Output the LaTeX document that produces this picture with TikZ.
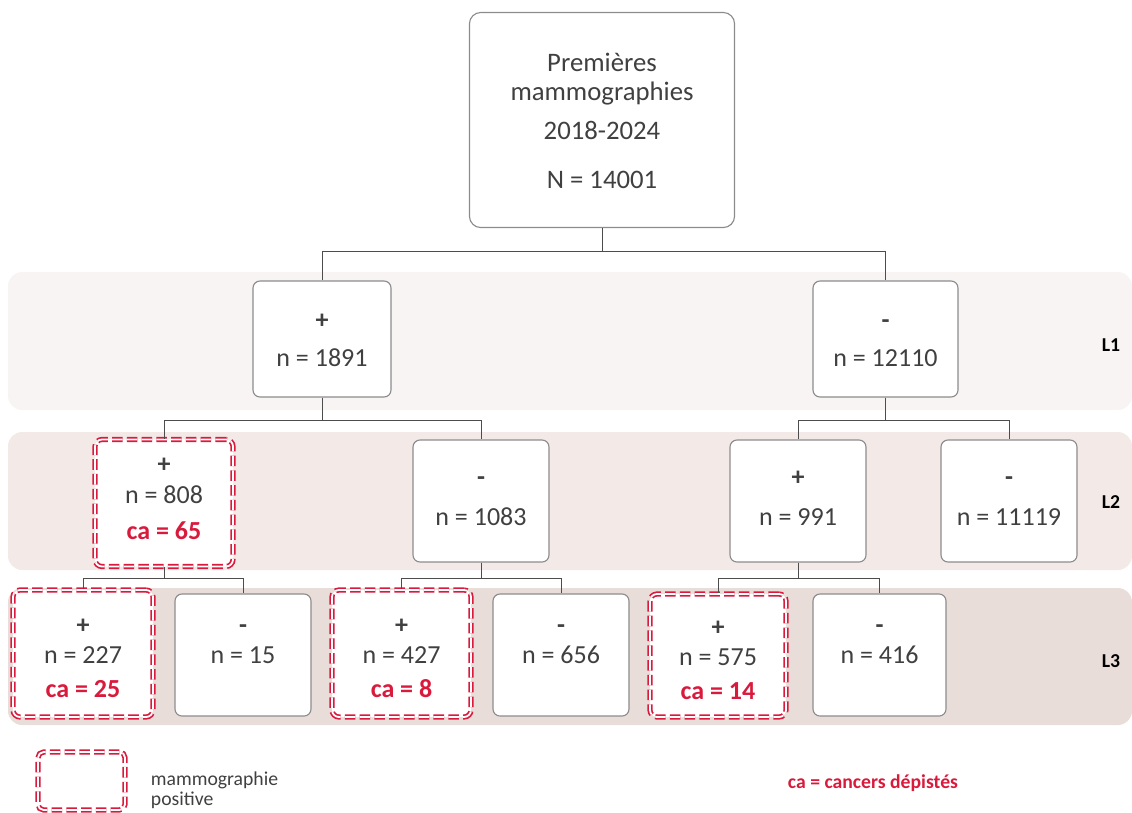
\documentclass[tikz,border=0pt]{standalone}
\usepackage{fontspec}
\setmainfont{Carlito}
\definecolor{txtgray}{HTML}{404040}
\definecolor{boxgray}{HTML}{8C8C8C}
\definecolor{caRed}{HTML}{D91A3C}
\definecolor{bandA}{HTML}{F8F4F3}
\definecolor{bandB}{HTML}{F3EAE8}
\definecolor{bandC}{HTML}{E8DDD9}
\begin{document}
\begin{tikzpicture}[x=0.025cm, y=-0.025cm,
        box/.style={draw=boxgray, fill=white, rounded corners=5pt, line width=0.8pt,
            minimum width=3.4cm, minimum height=3.05cm, align=center, text=txtgray,
            font=\fontsize{18.5}{21}\selectfont, text depth=0pt},
        posbox/.style={box, draw=caRed, double=white, double distance=1.3pt, line width=1.2pt,
            dash pattern=on 7.5pt off 3pt},
        link/.style={draw=black!70, line width=0.7pt},
        lvl/.style={font=\fontsize{14}{16}\selectfont\bfseries}]

        \useasboundingbox (0,0) rectangle (1132,812);

        % level bands
        \fill[bandA, rounded corners=10pt] (8,272) rectangle (1132,410);
        \fill[bandB, rounded corners=10pt] (8,432) rectangle (1132,570);
        \fill[bandC, rounded corners=10pt] (8,588) rectangle (1132,725);

        \node[lvl] (lvA) at (1111,345) {L1};
        \node[lvl] (lvB) at (1111,502) {L2};
        \node[lvl] (lvC) at (1111,661) {L3};

        \node[box, rounded corners=8pt, minimum width=6.625cm, minimum height=5.375cm,
            font=\fontsize{19}{21}\selectfont, text height=98pt] (root) at (602,120)
            {Premières\\[-0.4pt] mammographies\\[7.4pt] 2018-2024\\[13.8pt] N = 14001};

        \node[box, minimum width=3.45cm, minimum height=2.9cm, text height=38.4pt] (l1p) at (322,339)
            {\textbf{+}\\[5.6pt] n = 1891};
        \node[box, minimum width=3.625cm, minimum height=2.9cm, text height=38.4pt] (l1m) at (885.5,339)
            {\textbf{-}\\[5.6pt] n = 12110};

        \node[posbox, minimum width=3.45cm, minimum height=3.175cm, text height=51.2pt] (l2a) at (164,503)
            {\textbf{+}\\[1pt] n = 808\\[4pt] {\color{caRed}\bfseries ca = 65}};
        \node[box, text height=35.5pt] (l2b) at (481,501) {\textbf{-}\\[8pt] n = 1083};
        \node[box, text height=35.5pt] (l2c) at (798,501) {\textbf{+}\\[8pt] n = 991};
        \node[box, text height=35.5pt] (l2d) at (1009,501) {\textbf{-}\\[8pt] n = 11119};

        \node[posbox, minimum width=3.5cm, minimum height=3.175cm, text height=61.9pt] (l3a) at (83,653.5)
            {\textbf{+}\\ n = 227\\[3pt] {\color{caRed}\bfseries ca = 25}};
        \node[box, text height=11.4pt] (l3b) at (243,655) {\textbf{-}\\ n = 15};
        \node[posbox, minimum width=3.475cm, minimum height=3.175cm, text height=61.9pt] (l3c) at (401.5,653.5)
            {\textbf{+}\\ n = 427\\[3pt] {\color{caRed}\bfseries ca = 8}};
        \node[box, text height=11.4pt] (l3d) at (561,655) {\textbf{-}\\ n = 656};
        \node[posbox, minimum width=3.4cm, minimum height=3.075cm, text height=61.9pt] (l3e) at (718,655.5)
            {\textbf{+}\\ n = 575\\[3pt] {\color{caRed}\bfseries ca = 14}};
        \node[box, minimum width=3.325cm, text height=11.4pt] (l3f) at (879.5,655) {\textbf{-}\\ n = 416};

        \draw[link] (root.south) -- ++(0,23) -| (l1p.north);
        \draw[link] (root.south) -- ++(0,23) -| (l1m.north);
        \draw[link] (l1p.south) -- ++(0,23) -| (l2a.north);
        \draw[link] (l1p.south) -- ++(0,23) -| (l2b.north);
        \draw[link] (l1m.south) -- ++(0,23) -| (l2c.north);
        \draw[link] (l1m.south) -- ++(0,23) -| (l2d.north);
        \draw[link] (l2a.south) -- ++(0,11) -| (l3a.north);
        \draw[link] (l2a.south) -- ++(0,11) -| (l3b.north);
        \draw[link] (l2b.south) -- ++(0,16) -| (l3c.north);
        \draw[link] (l2b.south) -- ++(0,16) -| (l3d.north);
        \draw[link] (l2c.south) -- ++(0,16) -| (l3e.north);
        \draw[link] (l2c.south) -- ++(0,16) -| (l3f.north);

        % legend
        \node[posbox, rounded corners=4pt, minimum width=2.175cm, minimum height=1.45cm] (legbox) at (81.5,781) {};
        \node[anchor=west, align=left, text=txtgray, font=\fontsize{14}{14.5}\selectfont] (legtxt) at (146,790)
            {mammographie\\ positive};
        \node[text=caRed, font=\fontsize{14}{16}\selectfont\bfseries] (legca) at (873,783) {ca = cancers dépistés};

    \end{tikzpicture}
\end{document}
